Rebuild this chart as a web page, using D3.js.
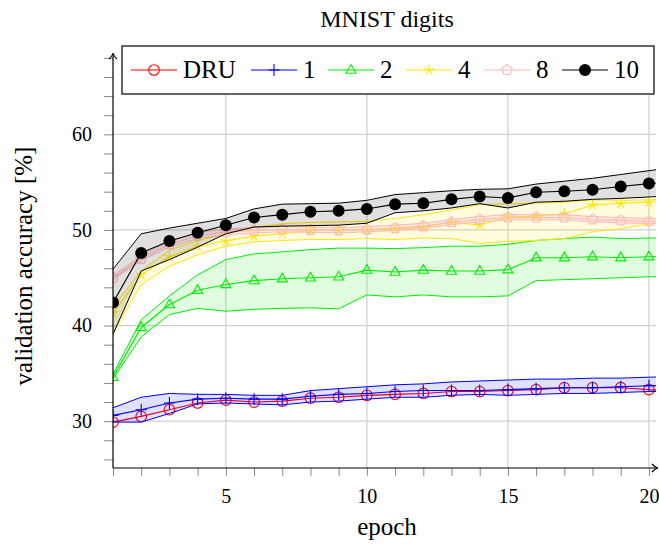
<!DOCTYPE html>
<html>
<head>
<meta charset="utf-8">
<script src="https://cdn.jsdelivr.net/npm/d3@7"></script>
<style>
  body { margin: 0; background: #fff; }
  text { font-family: "Liberation Serif", "Times New Roman", serif; fill: #000; }
</style>
</head>
<body>
<div id="chart"></div>
<script>
// Data (epoch 21 only visible as the clipped tail)
var epochs = [1, 2, 3, 4, 5, 6, 7, 8, 9, 10, 11, 12, 13, 14, 15, 16, 17, 18, 19, 20, 21];

var druMean = [29.9, 30.5, 31.2, 31.9, 32.2, 32.0, 32.1, 32.4, 32.5, 32.7, 32.8, 32.9, 33.1, 33.1, 33.2, 33.3, 33.5, 33.5, 33.5, 33.3, 33.1];

var n1Mean  = [30.6, 31.2, 31.9, 32.3, 32.4, 32.3, 32.3, 32.6, 32.8, 32.9, 33.1, 33.2, 33.2, 33.2, 33.3, 33.4, 33.5, 33.5, 33.6, 33.7, 33.75];
var n1Upper = [31.4, 32.5, 32.9, 32.8, 32.8, 32.7, 32.7, 33.2, 33.4, 33.6, 33.8, 33.9, 34.1, 34.2, 34.3, 34.4, 34.4, 34.5, 34.5, 34.6, 34.65];
var n1Lower = [29.9, 29.9, 30.8, 31.8, 31.9, 31.8, 31.7, 32.0, 32.1, 32.3, 32.5, 32.5, 32.7, 32.8, 32.7, 32.8, 32.9, 32.9, 33.0, 33.1, 33.1];

var n2Mean  = [34.6, 39.8, 42.2, 43.7, 44.3, 44.7, 44.9, 45.0, 45.1, 45.8, 45.6, 45.8, 45.7, 45.7, 45.85, 47.1, 47.1, 47.2, 47.1, 47.2, 47.3];
var n2Upper = [34.9, 40.6, 43.1, 45.3, 46.9, 47.5, 47.7, 47.95, 48.1, 48.1, 48.05, 48.15, 48.3, 48.3, 48.5, 48.9, 49.1, 49.25, 49.1, 49.15, 49.2];
var n2Lower = [34.4, 38.8, 41.15, 41.8, 41.5, 41.7, 41.8, 41.85, 41.75, 43.2, 43.0, 43.2, 43.0, 43.0, 43.1, 44.7, 44.8, 44.9, 45.0, 45.1, 45.15];

var n4Mean  = [41.3, 45.3, 47.2, 48.3, 48.85, 49.35, 49.6, 49.95, 49.95, 50.0, 50.07, 50.3, 50.8, 50.5, 51.35, 51.45, 51.7, 52.6, 52.8, 52.9, 53.1];
var n4Upper = [42.0, 45.7, 47.9, 48.9, 49.6, 50.3, 50.65, 50.8, 50.85, 50.9, 51.2, 51.6, 52.1, 52.65, 52.75, 52.8, 52.9, 53.15, 53.1, 53.15, 53.3];
var n4Lower = [39.2, 44.3, 46.2, 47.4, 48.3, 48.75, 48.9, 49.0, 49.0, 49.1, 49.0, 49.15, 49.1, 48.6, 48.8, 48.9, 49.1, 49.8, 50.15, 50.6, 50.9];

var n8Mean  = [45.0, 47.0, 48.5, 49.4, 49.8, 49.95, 50.05, 50.0, 49.95, 50.05, 50.2, 50.4, 50.8, 51.1, 51.3, 51.3, 51.3, 51.1, 51.0, 50.9, 50.85];
var n8Upper = [45.2, 47.3, 48.8, 49.7, 50.1, 50.25, 50.35, 50.3, 50.25, 50.35, 50.5, 50.7, 51.1, 51.4, 51.6, 51.6, 51.6, 51.4, 51.3, 51.2, 51.15];
var n8Lower = [44.8, 46.8, 48.2, 49.1, 49.5, 49.7, 49.8, 49.75, 49.7, 49.8, 49.95, 50.15, 50.55, 50.85, 51.05, 51.05, 51.05, 50.85, 50.75, 50.65, 50.6];

var n10Mean  = [42.4, 47.6, 48.85, 49.7, 50.5, 51.3, 51.6, 51.9, 52.0, 52.2, 52.7, 52.8, 53.2, 53.5, 53.35, 53.95, 54.05, 54.2, 54.55, 54.85, 55.1];
var n10Upper = [45.9, 49.6, 50.2, 50.7, 51.2, 52.2, 52.7, 52.75, 52.8, 53.1, 53.7, 53.9, 54.1, 54.25, 54.3, 54.8, 55.1, 55.4, 55.8, 56.2, 56.6];
var n10Lower = [39.1, 45.7, 46.9, 48.2, 49.6, 50.3, 50.4, 50.45, 50.5, 50.7, 51.8, 52.0, 52.3, 52.75, 52.3, 52.9, 53.0, 53.2, 53.3, 53.45, 53.6];

var xTicks = [1, 2, 3, 4, 5, 6, 7, 8, 9, 10, 11, 12, 13, 14, 15, 16, 17, 18, 19, 20];
var yTicks = [26, 28, 30, 32, 34, 36, 38, 40, 42, 44, 46, 48, 50, 52, 54, 56, 58, 60, 62, 64, 66, 68];
var xLabelled = [5, 10, 15, 20];
var yLabelled = [30, 40, 50, 60];

var series = [
  { name: "DRU", color: "#ff0000", mark: "circle",   mean: druMean },
  { name: "1",   color: "#0000ff", mark: "plus",     mean: n1Mean,  upper: n1Upper,  lower: n1Lower },
  { name: "2",   color: "#00ee00", mark: "triangle", mean: n2Mean,  upper: n2Upper,  lower: n2Lower },
  { name: "4",   color: "#ffe600", mark: "star",     mean: n4Mean,  upper: n4Upper,  lower: n4Lower },
  { name: "8",   color: "#ffb8b8", mark: "pentagon", mean: n8Mean,  upper: n8Upper,  lower: n8Lower },
  { name: "10",  color: "#000000", mark: "dot",      mean: n10Mean, upper: n10Upper, lower: n10Lower }
];

var svgWidth = 659;
var svgHeight = 546;

var svg = d3.select("#chart")
  .append("svg")
  .attr("width", svgWidth)
  .attr("height", svgHeight);

var x = d3.scaleLinear().domain([1, 20.25]).range([113, 656]);
var y = d3.scaleLinear().domain([25.1, 68.3]).range([468, 55]);

// grid
svg.append("g").selectAll("line")
  .data(xLabelled).enter().append("line")
  .attr("x1", d => x(d)).attr("x2", d => x(d))
  .attr("y1", y.range()[1]).attr("y2", y.range()[0])
  .attr("stroke", "#cfcfcf").attr("stroke-width", 1.2);
svg.append("g").selectAll("line")
  .data(yLabelled).enter().append("line")
  .attr("x1", x.range()[0]).attr("x2", x.range()[1])
  .attr("y1", d => y(d)).attr("y2", d => y(d))
  .attr("stroke", "#cfcfcf").attr("stroke-width", 1.2);

// data
svg.append("clipPath").attr("id", "plotclip")
  .append("rect").attr("x", 113).attr("y", 50).attr("width", 543).attr("height", 418);

var plot = svg.append("g").attr("clip-path", "url(#plotclip)");

var line = function(vals) {
  return d3.line().x((d, i) => x(epochs[i])).y(d => y(d))(vals);
};
var area = d3.area()
  .x(d => x(d.e))
  .y0(d => y(d.lo))
  .y1(d => y(d.hi));

function markPath(type) {
  if (type === "plus") return "M-5.5,0H5.5M0,-6V6";
  if (type === "triangle") return "M0,-5.5L5,3.2L-5,3.2Z";
  if (type === "star") {
    var p = "";
    for (var k = 0; k < 5; k++) {
      var a = -Math.PI / 2 + k * 2 * Math.PI / 5;
      p += "M0,0L" + (5.5 * Math.cos(a)).toFixed(2) + "," + (5.5 * Math.sin(a)).toFixed(2);
    }
    return p;
  }
  if (type === "pentagon") {
    var pts = [];
    for (var k = 0; k < 5; k++) {
      var a = -Math.PI / 2 + k * 2 * Math.PI / 5;
      pts.push((5.5 * Math.cos(a)).toFixed(2) + "," + (5.5 * Math.sin(a)).toFixed(2));
    }
    return "M" + pts.join("L") + "Z";
  }
  return null;
}

function drawMark(g, s, cx, cy) {
  if (s.mark === "circle") {
    g.append("circle").attr("cx", cx).attr("cy", cy).attr("r", 5.3)
      .attr("fill", "none").attr("stroke", s.color).attr("stroke-width", 1.1);
  } else if (s.mark === "dot") {
    g.append("circle").attr("cx", cx).attr("cy", cy).attr("r", 6)
      .attr("fill", s.color);
  } else {
    g.append("path").attr("d", markPath(s.mark))
      .attr("transform", `translate(${cx},${cy})`)
      .attr("fill", "none").attr("stroke", s.color).attr("stroke-width", 1.1);
  }
}

series.forEach(function(s) {
  if (s.upper) {
    var band = epochs.map((e, i) => ({ e: e, lo: s.lower[i], hi: s.upper[i] }));
    plot.append("path").attr("d", area(band))
      .attr("fill", s.color).attr("fill-opacity", s.name === "8" ? 0.25 : 0.12);
    [s.upper, s.lower].forEach(function(v) {
      plot.append("path").attr("d", line(v))
        .attr("fill", "none").attr("stroke", s.color).attr("stroke-width", 1);
    });
  }
  plot.append("path").attr("d", line(s.mean))
    .attr("fill", "none").attr("stroke", s.color).attr("stroke-width", 1.1);
  var mg = plot.append("g");
  s.mean.forEach(function(v, i) {
    drawMark(mg, s, x(epochs[i]), y(v));
  });
});

// axes
var bottomAxis = d3.axisBottom(x)
  .tickValues(xTicks)
  .tickFormat(d => xLabelled.indexOf(d) >= 0 ? d : "")
  .tickSize(8).tickPadding(13);
var leftAxis = d3.axisLeft(y)
  .tickValues(yTicks)
  .tickFormat(d => yLabelled.indexOf(d) >= 0 ? d : "")
  .tickSize(9).tickPadding(12);

var gx = svg.append("g").attr("transform", "translate(0,468)").call(bottomAxis);
var gy = svg.append("g").attr("transform", "translate(113,0)").call(leftAxis);
[gx, gy].forEach(function(g) {
  g.select(".domain").remove();
  g.selectAll(".tick line").attr("stroke", "#888").attr("stroke-width", 1);
  g.selectAll(".tick text")
    .attr("font-family", "'Liberation Serif', serif")
    .attr("font-size", 20).attr("fill", "#000");
});

// axis lines with arrow tips
svg.append("line").attr("x1", 113).attr("y1", 468).attr("x2", 657).attr("y2", 468)
  .attr("stroke", "#000").attr("stroke-width", 1.2);
svg.append("line").attr("x1", 113).attr("y1", 468).attr("x2", 113).attr("y2", 54)
  .attr("stroke", "#000").attr("stroke-width", 1.2);
svg.append("path").attr("d", "M652,464 Q655,467.5 658,468 Q655,468.5 652,472")
  .attr("fill", "none").attr("stroke", "#000").attr("stroke-width", 1.2);
svg.append("path").attr("d", "M109,59 Q112.5,56 113,53 Q113.5,56 117,59")
  .attr("fill", "none").attr("stroke", "#000").attr("stroke-width", 1.2);

// titles
svg.append("text").attr("x", 387).attr("y", 27)
  .attr("text-anchor", "middle").attr("font-size", 24)
  .text("MNIST digits");
svg.append("text").attr("x", 387).attr("y", 535)
  .attr("text-anchor", "middle").attr("font-size", 25)
  .text("epoch");
svg.append("text")
  .attr("transform", "translate(32,266) rotate(-90)")
  .attr("text-anchor", "middle").attr("font-size", 25)
  .text("validation accuracy [%]");

// legend
var legend = svg.append("g");
legend.append("rect").attr("x", 122).attr("y", 46).attr("width", 532).attr("height", 48)
  .attr("fill", "#fff").attr("stroke", "#000").attr("stroke-width", 1.2);
var legendX = [131, 251, 328, 406, 484, 562];
series.forEach(function(s, i) {
  var lx = legendX[i];
  legend.append("line").attr("x1", lx).attr("x2", lx + 46).attr("y1", 70).attr("y2", 70)
    .attr("stroke", s.color).attr("stroke-width", 1.1);
  drawMark(legend, s, lx + 23, 70);
  legend.append("text").attr("x", lx + 52).attr("y", 78)
    .attr("font-size", 25).text(s.name);
});
</script>
</body>
</html>
